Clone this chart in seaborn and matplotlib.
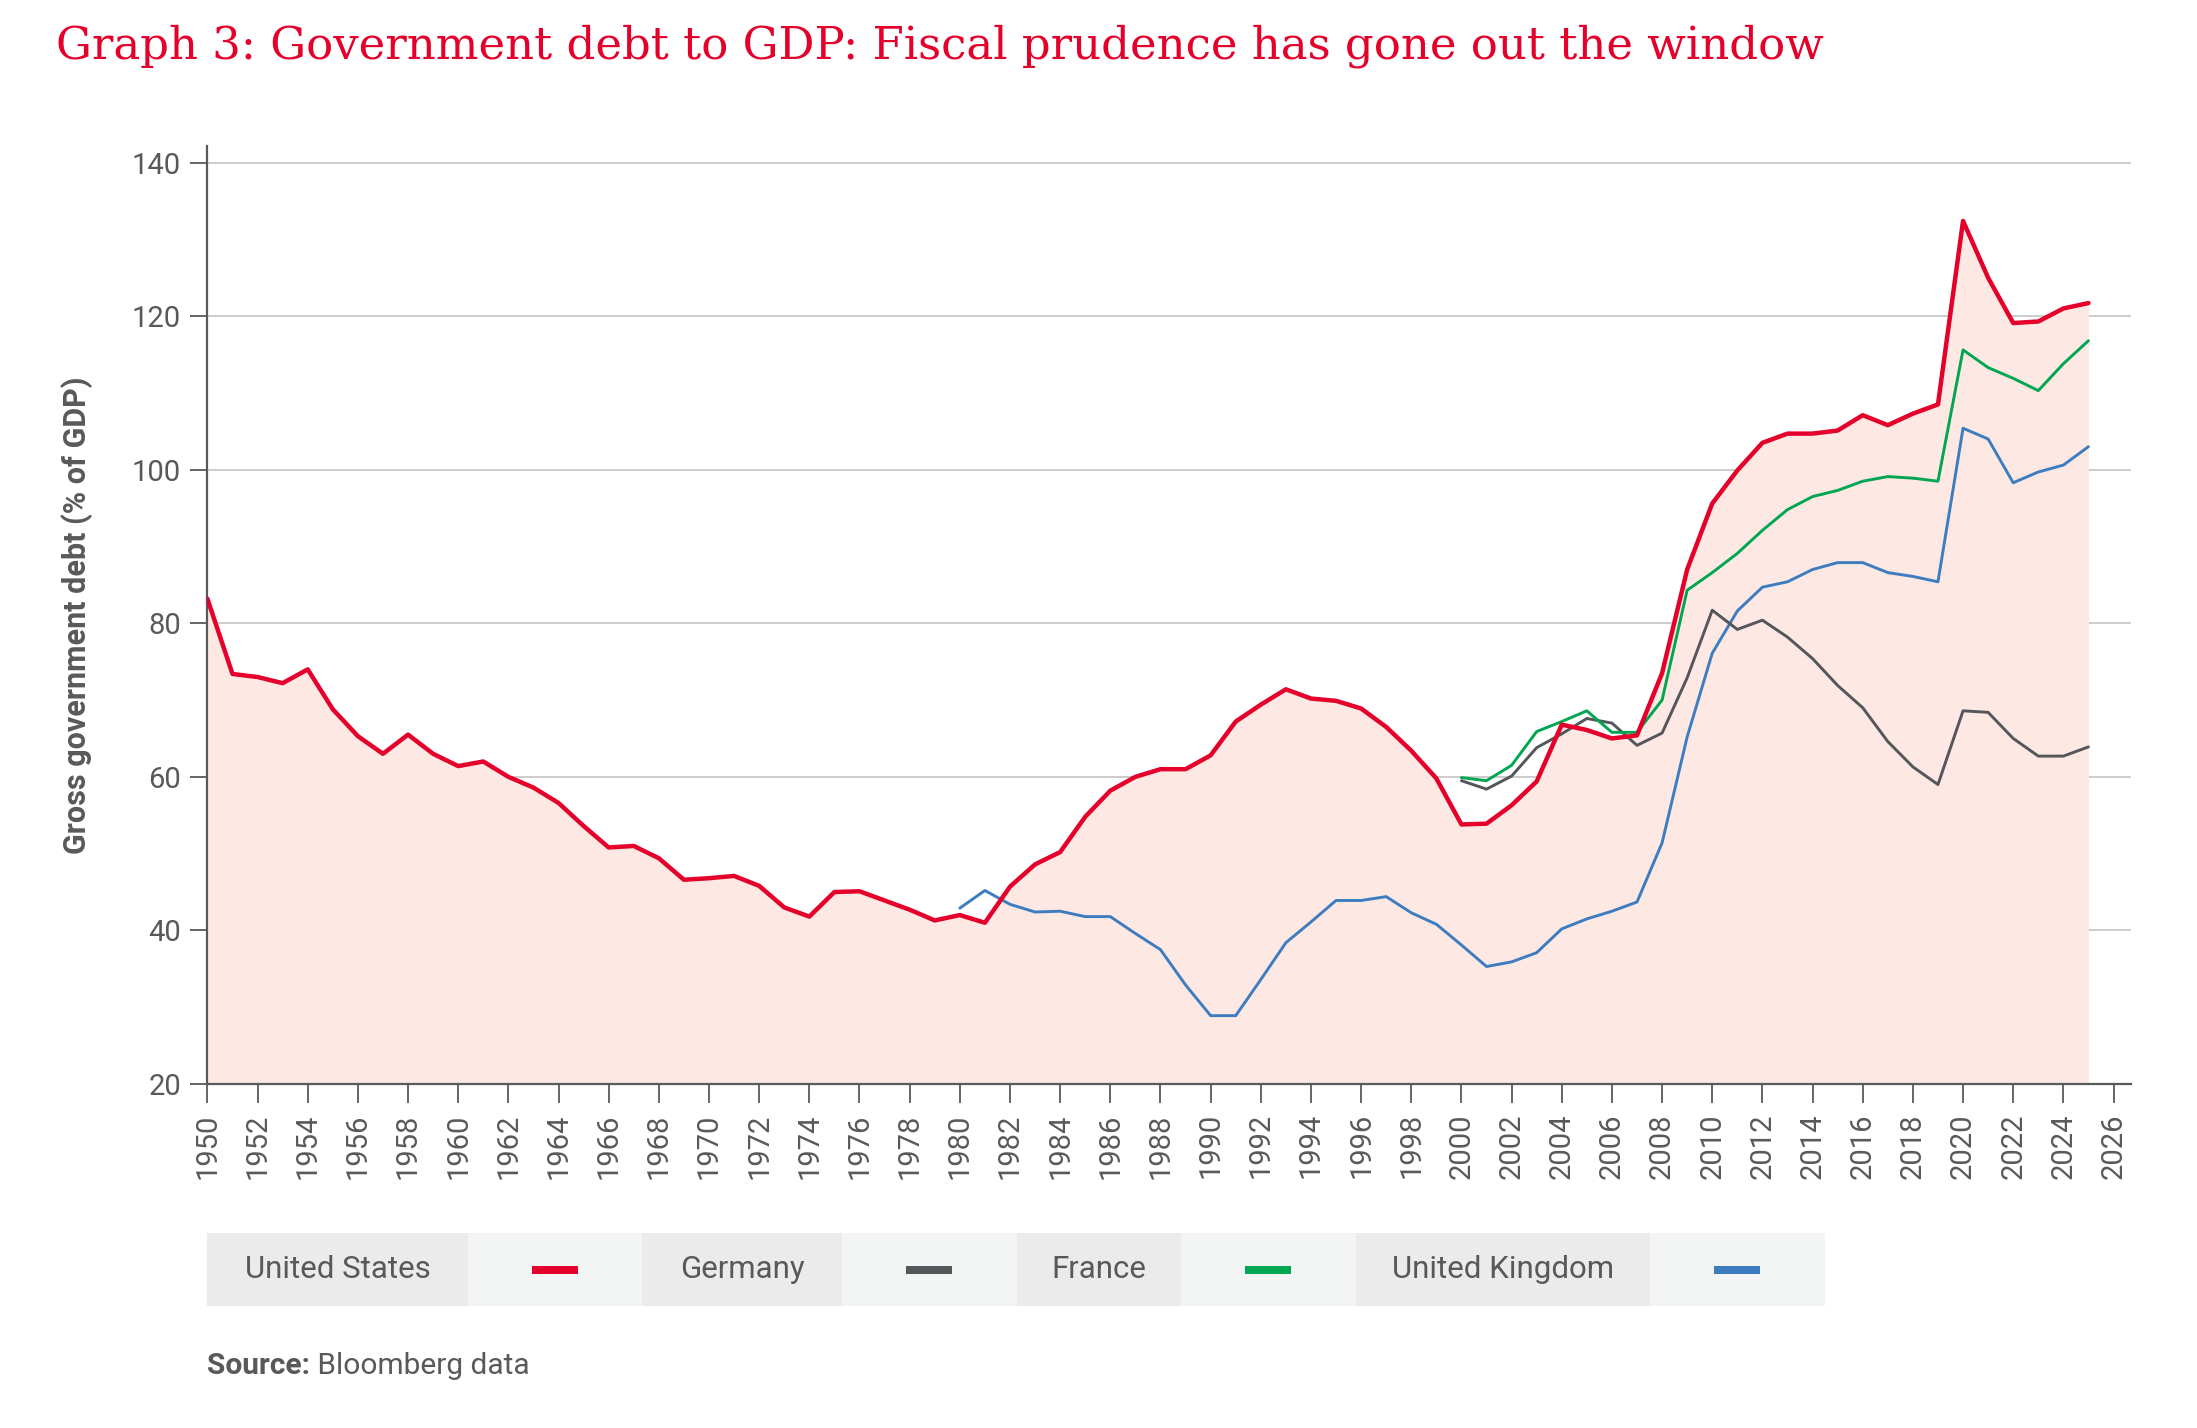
import numpy as np
import pandas as pd
import matplotlib
matplotlib.use("Agg")
import matplotlib.pyplot as plt
from matplotlib.patches import Rectangle
import seaborn as sns

# ---- data ----
years_us = list(range(1950, 2026))
debt_us = [83.2, 73.4, 73.0, 72.2, 74.0, 68.8, 65.3, 63.0, 65.5, 63.0,
           61.4, 62.0, 60.0, 58.6, 56.6, 53.6, 50.8, 51.0, 49.4, 46.6,
           46.8, 47.1, 45.8, 43.0, 41.8, 45.0, 45.1, 43.9, 42.7, 41.3,
           42.0, 41.0, 45.7, 48.6, 50.2, 54.8, 58.2, 60.0, 61.0, 61.0,
           62.8, 67.2, 69.4, 71.4, 70.2, 69.9, 68.9, 66.5, 63.4, 59.8,
           53.8, 53.9, 56.3, 59.4, 66.8, 66.1, 65.0, 65.4, 73.5, 87.0,
           95.6, 99.9, 103.5, 104.7, 104.7, 105.1, 107.1, 105.8, 107.3, 108.5,
           132.4, 125.0, 119.1, 119.3, 121.0, 121.7]

years_uk = list(range(1980, 2026))
debt_uk = [42.9, 45.2, 43.4, 42.4, 42.5, 41.8, 41.8, 39.6, 37.5, 32.9,
           28.9, 28.9, 33.6, 38.4, 41.1, 43.9, 43.9, 44.4, 42.3, 40.8,
           38.1, 35.3, 35.9, 37.1, 40.2, 41.5, 42.5, 43.7, 51.4, 65.2,
           76.1, 81.6, 84.7, 85.4, 87.0, 87.9, 87.9, 86.6, 86.1, 85.4,
           105.4, 104.0, 98.3, 99.7, 100.6, 103.0]

years_eu = list(range(2000, 2026))
debt_de = [59.5, 58.4, 60.1, 63.8, 65.6, 67.6, 67.0, 64.1, 65.7, 72.9,
           81.7, 79.2, 80.4, 78.2, 75.4, 71.9, 69.0, 64.6, 61.3, 59.0,
           68.6, 68.4, 65.0, 62.7, 62.7, 63.9]
debt_fr = [59.9, 59.5, 61.5, 65.9, 67.2, 68.6, 65.8, 65.8, 70.0, 84.3,
           86.6, 89.1, 92.1, 94.8, 96.5, 97.3, 98.5, 99.1, 98.9, 98.5,
           115.6, 113.3, 111.9, 110.3, 113.8, 116.8]

countries = ["United States", "Germany", "France", "United Kingdom"]
colors = {"United States": "#E4002B", "Germany": "#54565A",
          "France": "#00A651", "United Kingdom": "#3D7DBF"}
series = {"United States": (years_us, debt_us),
          "Germany": (years_eu, debt_de),
          "France": (years_eu, debt_fr),
          "United Kingdom": (years_uk, debt_uk)}

title = "Graph 3: Government debt to GDP: Fiscal prudence has gone out the window"
ylabel = "Gross government debt (% of GDP)"
x_ticks = list(range(1950, 2027, 2))
y_ticks = list(range(20, 141, 20))

GREY = "#58595B"
RED = "#E4002B"

sns.set_theme(style="white")
plt.rcParams["font.family"] = ["Roboto", "DejaVu Sans"]

fig = plt.figure(figsize=(21.97, 14.28), dpi=100)
ax = fig.add_axes([0.0944, 0.2409, 0.8756, 0.6571])

ax.fill_between(years_us, debt_us, 20, color="#FDE8E3", lw=0, zorder=1)

draw_order = ["United Kingdom", "Germany", "France", "United States"]
for i, c in enumerate(draw_order):
    xs, ys = series[c]
    df = pd.DataFrame({"year": xs, "debt": ys})
    sns.lineplot(data=df, x="year", y="debt", ax=ax, color=colors[c],
                 linewidth=3.2 if c == "United States" else 2.1,
                 estimator=None, zorder=3 + i)

ax.set_xlim(1950, 2026.7)
ax.set_ylim(20, 142.2)
ax.set_xticks(x_ticks)
ax.set_xticklabels([str(y) for y in x_ticks], rotation=90)
ax.set_yticks(y_ticks)
ax.yaxis.grid(True, color="#C8C8C8", linewidth=1.3, zorder=0)
ax.xaxis.grid(False)
ax.set_axisbelow(True)
for s in ["top", "right"]:
    ax.spines[s].set_visible(False)
for s in ["left", "bottom"]:
    ax.spines[s].set_color(GREY)
    ax.spines[s].set_linewidth(1.6)
ax.tick_params(axis="x", direction="out", length=14, width=1.3, color=GREY,
               labelcolor=GREY, labelsize=21, pad=7, bottom=True)
ax.tick_params(axis="y", direction="out", length=12, width=1.3, color=GREY,
               labelcolor=GREY, labelsize=21, pad=7, left=True)
ax.set_xlabel("")
ax.set_ylabel(ylabel, fontsize=22, fontweight="bold", color=GREY, labelpad=28)

fig.text(0.0255, 0.968, title, fontsize=32.4, color=RED, family="DejaVu Serif",
         va="center", ha="left")

# ---- legend as a strip of boxes ----
box_edges = [207, 468, 642, 842, 1017, 1181, 1356, 1650, 1825]
lax = fig.add_axes([207 / 2197, 1 - 1306 / 1428, (1825 - 207) / 2197, 73 / 1428])
lax.set_xlim(207, 1825)
lax.set_ylim(0, 73)
lax.axis("off")
for i, c in enumerate(countries):
    x0, x1, x2 = box_edges[2 * i], box_edges[2 * i + 1], box_edges[2 * i + 2]
    lax.add_patch(Rectangle((x0, 0), x1 - x0, 73, color="#EBEBEB", lw=0))
    lax.add_patch(Rectangle((x1, 0), x2 - x1, 73, color="#F3F4F4", lw=0))
    lax.text((x0 + x1) / 2, 36.5, c, ha="center", va="center",
             fontsize=22.5, color=GREY)
    cx = (x1 + x2) / 2
    lax.add_patch(Rectangle((cx - 23, 32.5), 46, 8, color=colors[c], lw=0))

src = fig.text(207 / 2197, 1 - 1366 / 1428, "Source:", fontsize=21.5,
               fontweight="bold", color=GREY, va="center", ha="left")
ax.annotate(" Bloomberg data", xy=(1, 0.5), xycoords=src, fontsize=21.5,
            color=GREY, va="center", ha="left", annotation_clip=False)

fig.savefig("out.png", dpi=100)
